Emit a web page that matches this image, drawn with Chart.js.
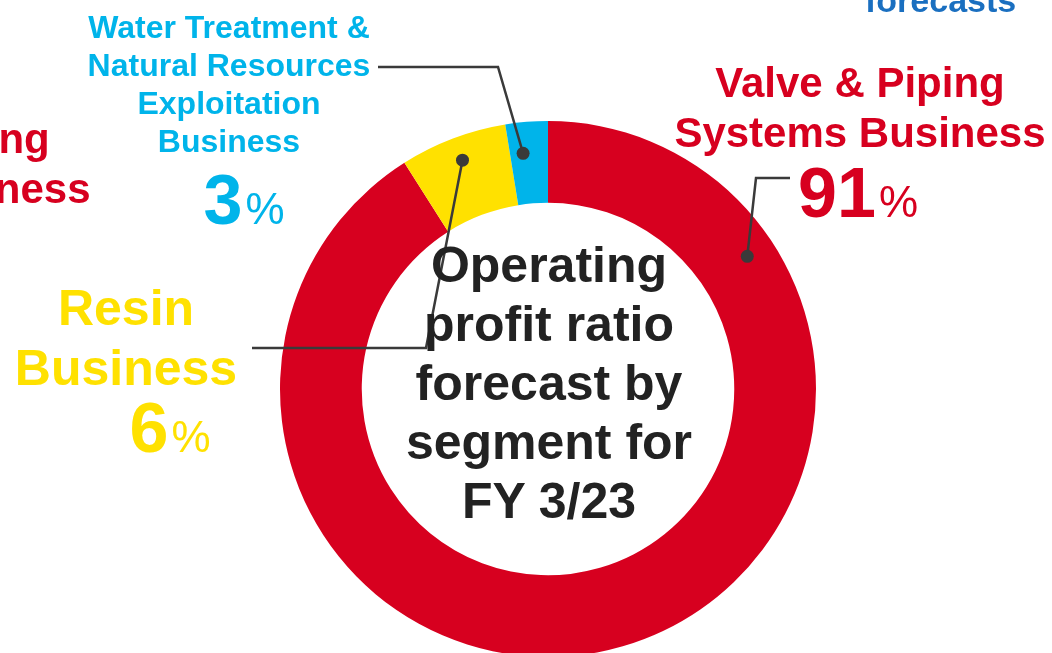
<!DOCTYPE html>
<html>
<head>
<meta charset="utf-8">
<script src="https://cdn.jsdelivr.net/npm/chart.js@4.4.1/dist/chart.umd.min.js"></script>
<style>
  html, body { margin: 0; padding: 0; background: #fff; }
  #wrap { position: relative; width: 1052px; height: 653px; overflow: hidden; font-family: "Liberation Sans", Arial, sans-serif; }
  #chart1 { position: absolute; left: 0; top: 0; }
  .lbl { position: absolute; font-weight: bold; text-align: center; white-space: nowrap; }
  .num { position: absolute; font-weight: bold; font-size: 70px; line-height: 1; white-space: nowrap; text-align: center; }
  .num .pct { font-size: 44px; font-weight: normal; margin-left: 3px; }
</style>
</head>
<body>
<div id="wrap">
  <canvas id="chart1" width="1052" height="720"></canvas>

  <div class="lbl" style="left:-395px; top:114px; width:600px; font-size:42px; line-height:50px; color:#D7001F;">Valve &amp; Piping<br>Systems Business</div>
  <div class="lbl" style="left:865px; top:-17px; font-size:34px; line-height:34px; color:#1A6FC0;">forecasts</div>

  <div class="lbl" id="lab2" style="left:29px; top:8px; width:400px; font-size:32px; line-height:38px;"></div>
  <div class="num" id="num2" style="left:144px; top:165px; width:200px;"></div>

  <div class="lbl" id="lab1" style="left:-74px; top:278px; width:400px; font-size:50px; line-height:60px;"></div>
  <div class="num" id="num1" style="left:70px; top:393px; width:200px;"></div>

  <div class="lbl" id="lab0" style="left:560px; top:58px; width:600px; font-size:42px; line-height:50px;"></div>
  <div class="num" id="num0" style="left:758px; top:158px; width:200px;"></div>

  <div class="lbl" id="centro" style="left:349px; top:236px; width:400px; font-size:50px; line-height:59px; color:#222;"></div>
</div>

<script>
  // datos del grafico
  var segmentos = ["Valve & Piping Systems Business", "Resin Business", "Water Treatment & Natural Resources Exploitation Business"];
  var lineas = [
    ["Valve & Piping", "Systems Business"],
    ["Resin", "Business"],
    ["Water Treatment &", "Natural Resources", "Exploitation", "Business"]
  ];
  var ratios = [91.0, 6.45, 2.55];
  var colores = ["#D7001F", "#FFE100", "#00B4EA"];
  var tituloCentro = ["Operating", "profit ratio", "forecast by", "segment for", "FY 3/23"];

  // donde cae el punto de cada linea guia dentro de su arco
  var guiaAngulo = [0.172, 0.513, 0.343];
  var guiaProf = [0.65, 0.71, 0.62];
  // codo y final de cada linea guia (posicion de las etiquetas)
  var guiaCodos = [
    [[756, 178], [790, 178]],
    [[426, 348], [252, 348]],
    [[498, 67], [378, 67]]
  ];

  function esc(t) {
    return t.replace(/&/g, "&amp;");
  }

  for (var i = 0; i < segmentos.length; i++) {
    var lab = document.getElementById("lab" + i);
    lab.innerHTML = lineas[i].map(esc).join("<br>");
    lab.style.color = colores[i];
    var num = document.getElementById("num" + i);
    num.innerHTML = Math.round(ratios[i]) + '<span class="pct">%</span>';
    num.style.color = colores[i];
  }
  document.getElementById("centro").innerHTML = tituloCentro.join("<br>");

  var lineasGuia = {
    id: "lineasGuia",
    afterDraw: function(chart) {
      var ctx = chart.ctx;
      var meta = chart.getDatasetMeta(0);
      ctx.save();
      ctx.strokeStyle = "#3a3a3a";
      ctx.fillStyle = "#3a3a3a";
      ctx.lineWidth = 2.5;
      meta.data.forEach(function(arc, i) {
        var p = arc.getProps(["x", "y", "startAngle", "endAngle", "innerRadius", "outerRadius"], true);
        var ang = p.startAngle + (p.endAngle - p.startAngle) * guiaAngulo[i];
        var r = p.innerRadius + (p.outerRadius - p.innerRadius) * guiaProf[i];
        var px = p.x + Math.cos(ang) * r;
        var py = p.y + Math.sin(ang) * r;
        ctx.beginPath();
        ctx.moveTo(px, py);
        guiaCodos[i].forEach(function(pt) { ctx.lineTo(pt[0], pt[1]); });
        ctx.stroke();
        ctx.beginPath();
        ctx.arc(px, py, 6.5, 0, Math.PI * 2);
        ctx.fill();
      });
      ctx.restore();
    }
  };

  var grafico = new Chart(document.getElementById("chart1"), {
    type: "doughnut",
    data: {
      labels: segmentos,
      datasets: [{
        data: ratios,
        backgroundColor: colores,
        borderWidth: 0
      }]
    },
    options: {
      responsive: false,
      animation: false,
      cutout: "69.5%",
      layout: { padding: { left: 280, right: 236, top: 121, bottom: 63 } },
      plugins: {
        legend: { display: false },
        tooltip: { enabled: false }
      }
    },
    plugins: [lineasGuia]
  });
</script>
</body>
</html>
